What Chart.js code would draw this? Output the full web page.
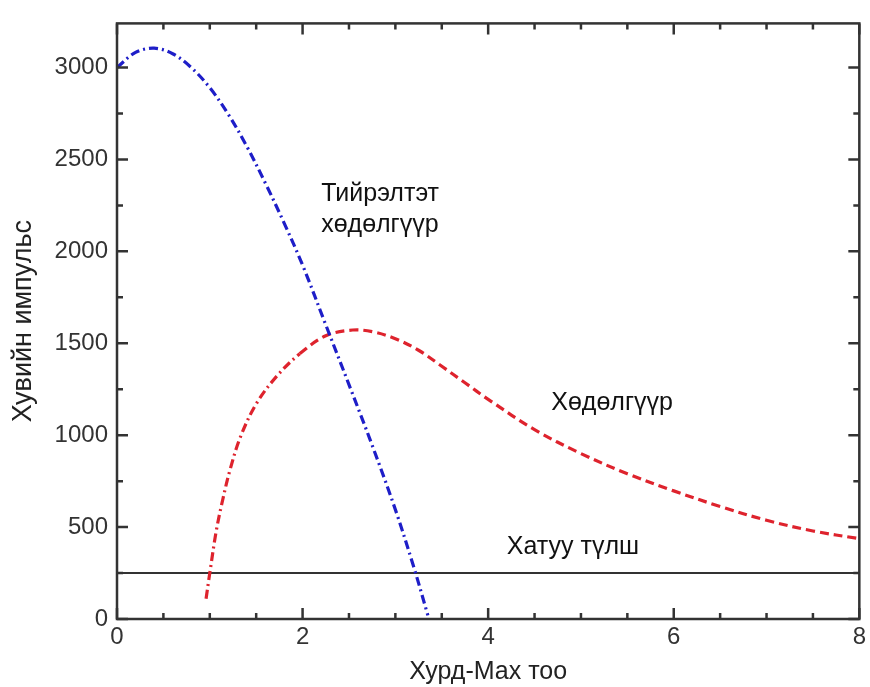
<!DOCTYPE html>
<html>
<head>
<meta charset="utf-8">
<script src="https://cdn.jsdelivr.net/npm/chart.js@4/dist/chart.umd.min.js"></script>
<style>
  body { margin: 0; background: #fff; }
  canvas { display: block; }
</style>
</head>
<body>
<canvas id="chart" width="870" height="687"></canvas>
<script>
// Тийрэлтэт хөдөлгүүр (blue dash-dot)
const jetX = [0, 0.2, 0.4, 0.6, 0.8, 1.0, 1.2, 1.4, 1.6, 1.8, 2.0, 2.25, 2.5, 2.75, 3.0, 3.2, 3.35];
const jetY = [3000, 3082, 3105, 3075, 3000, 2890, 2745, 2570, 2370, 2155, 1925, 1600, 1275, 945, 595, 280, 20];

// Хөдөлгүүр (red)
const engX = [0.96, 1.0, 1.07, 1.14, 1.22, 1.33, 1.5, 1.72, 1.97, 2.25, 2.54, 2.75, 3.0, 3.25, 3.5, 3.75, 4.0, 4.5, 5.0, 5.5, 6.0, 6.5, 7.0, 7.5, 8.0];
const engY = [110, 250, 480, 650, 815, 990, 1170, 1320, 1443, 1541, 1572, 1563, 1525, 1462, 1375, 1285, 1195, 1030, 900, 790, 697, 612, 537, 479, 437];

// Хатуу түлш (flat line)
const solidX = [0, 8];
const solidY = [250, 250];

// tick labels and tick marks
const xTickLabels = [0, 2, 4, 6, 8];
const yTickLabels = [0, 500, 1000, 1500, 2000, 2500, 3000];
const xTickMarks = [0, 0.5, 1, 1.5, 2, 2.5, 3, 3.5, 4, 4.5, 5, 5.5, 6, 6.5, 7, 7.5, 8];
const yTickMarks = [0, 250, 500, 750, 1000, 1250, 1500, 1750, 2000, 2250, 2500, 2750, 3000, 3250];

const labels = [
  { text: ["Тийрэлтэт", "хөдөлгүүр"], x: 2.2, y: 2275 },
  { text: ["Хөдөлгүүр"], x: 4.68, y: 1135 },
  { text: ["Хатуу түлш"], x: 4.2, y: 355 },
];

const FONT = "'Liberation Sans', Arial, sans-serif";
const toPoints = (xs, ys) => xs.map((x, i) => ({ x: x, y: ys[i] }));

// frame + inward ticks on all sides, and the text labels
const frameTicks = {
  id: "frameTicks",
  afterDatasetsDraw(chart) {
    const { ctx, chartArea: a, scales: { x, y } } = chart;
    ctx.save();
    ctx.strokeStyle = "#333";
    ctx.lineWidth = 2.5;
    ctx.beginPath();
    xTickMarks.forEach((v) => {
      const px = x.getPixelForValue(v);
      const len = xTickLabels.includes(v) ? 11 : 6;
      ctx.moveTo(px, a.bottom); ctx.lineTo(px, a.bottom - len);
      ctx.moveTo(px, a.top); ctx.lineTo(px, a.top + len);
    });
    yTickMarks.forEach((v) => {
      const py = y.getPixelForValue(v);
      if (py < a.top) return;
      const len = yTickLabels.includes(v) ? 11 : 6;
      ctx.moveTo(a.left, py); ctx.lineTo(a.left + len, py);
      ctx.moveTo(a.right, py); ctx.lineTo(a.right - len, py);
    });
    ctx.stroke();
    ctx.strokeRect(a.left, a.top, a.right - a.left, a.bottom - a.top);

    ctx.fillStyle = "#111";
    ctx.font = "25px " + FONT;
    ctx.textBaseline = "alphabetic";
    labels.forEach((l) => {
      const px = x.getPixelForValue(l.x);
      const py = y.getPixelForValue(l.y);
      l.text.forEach((t, i) => ctx.fillText(t, px, py + i * 31));
    });
    ctx.restore();
  },
};

new Chart(document.getElementById("chart"), {
  type: "scatter",
  plugins: [frameTicks],
  data: {
    datasets: [
      {
        data: toPoints(jetX, jetY),
        showLine: true,
        borderColor: "rgb(30,30,200)",
        borderWidth: 3.2,
        borderDash: [9, 4, 2, 4],
        pointRadius: 0,
        tension: 0.35,
      },
      {
        data: toPoints(engX, engY),
        showLine: true,
        borderColor: "rgb(222,35,45)",
        borderWidth: 3.2,
        pointRadius: 0,
        tension: 0.35,
        segment: {
          borderDash: (c) => (c.p0.parsed.x < 1.8 ? [9, 4, 2, 4] : [9, 5]),
        },
      },
      {
        data: toPoints(solidX, solidY),
        showLine: true,
        borderColor: "#333",
        borderWidth: 2,
        pointRadius: 0,
      },
    ],
  },
  options: {
    responsive: false,
    devicePixelRatio: 1,
    animation: false,
    layout: { padding: { top: 15, right: 8, left: 0, bottom: 0 } },
    plugins: { legend: { display: false }, tooltip: { enabled: false } },
    scales: {
      x: {
        type: "linear",
        min: 0,
        max: 8,
        afterBuildTicks: (s) => { s.ticks = xTickLabels.map((v) => ({ value: v })); },
        afterFit: (s) => { s.height = 68; },
        grid: { display: false, drawTicks: false },
        border: { display: false },
        ticks: { color: "#333", padding: 4, font: { family: FONT, size: 24 }, callback: (v) => String(v) },
        title: {
          display: true,
          text: "Хурд-Мах тоо",
          color: "#222",
          padding: { top: 0, bottom: 0 },
          font: { family: FONT, size: 25 },
        },
      },
      y: {
        type: "linear",
        min: 0,
        max: 3240,
        afterBuildTicks: (s) => { s.ticks = yTickLabels.map((v) => ({ value: v })); },
        afterFit: (s) => { s.width = 117; },
        grid: { display: false, drawTicks: false },
        border: { display: false },
        ticks: { color: "#333", padding: 9, font: { family: FONT, size: 24 }, callback: (v) => String(v) },
        title: {
          display: true,
          text: "Хувийн импульс",
          color: "#222",
          padding: { top: 7, bottom: 0 },
          font: { family: FONT, size: 27 },
        },
      },
    },
  },
});
</script>
</body>
</html>
